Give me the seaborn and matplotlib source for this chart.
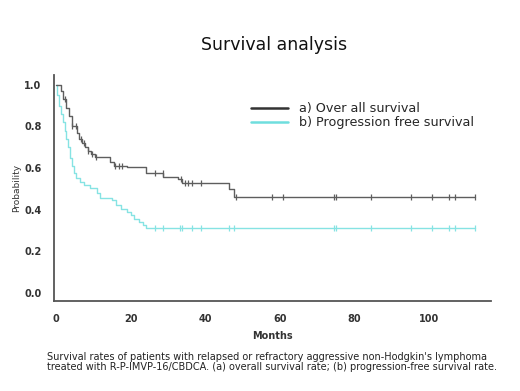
import numpy as np
import pandas as pd
import matplotlib
matplotlib.use("Agg")
import matplotlib.pyplot as plt
import seaborn as sns

# overall survival: step times (months) and survival probability after each step
os_time = [0, 1.3, 2.0, 2.8, 3.5, 4.2, 5.6, 6.3, 7.0, 7.8, 8.6, 9.5, 10.4, 14.4, 15.5, 19.0, 24.0, 28.8, 32.6, 33.8, 46.4, 47.6, 112.2]
os_surv = [1.0, 0.97, 0.93, 0.89, 0.85, 0.80, 0.77, 0.74, 0.72, 0.70, 0.68, 0.665, 0.654, 0.63, 0.612, 0.603, 0.577, 0.558, 0.545, 0.529, 0.50, 0.462, 0.462]
os_censor = [2.4, 4.4, 5.5, 6.6, 7.6, 8.6, 9.6, 10.6, 15.9, 16.8, 17.7, 26.6, 28.6, 33.5, 34.5, 35.5, 36.4, 38.8,
             48.2, 58.0, 60.9, 74.4, 75.0, 84.4, 95.1, 100.8, 105.3, 106.8, 112.2]

# progression free survival
pfs_time = [0, 0.3, 0.8, 1.3, 1.8, 2.3, 2.8, 3.3, 3.8, 4.2, 4.8, 5.4, 6.4, 7.5, 9.1, 10.9, 11.7, 14.9, 16.2, 17.5, 18.9, 20.0, 21.0, 22.2, 23.3, 24.2, 112.2]
pfs_surv = [1.0, 0.95, 0.90, 0.86, 0.82, 0.78, 0.74, 0.70, 0.65, 0.61, 0.575, 0.55, 0.534, 0.518, 0.502, 0.478, 0.454, 0.446, 0.42, 0.405, 0.39, 0.373, 0.357, 0.34, 0.325, 0.31, 0.31]
pfs_censor = [26.4, 28.6, 33.1, 33.7, 36.4, 38.8, 46.4, 47.7, 74.4, 75.0, 84.4, 95.1, 100.8, 105.3, 106.8, 112.2]

series_names = ["a) Over all survival", "b) Progression free survival"]
line_colors = ["#5e5e5e", "#86e3e3"]
legend_colors = ["#333333", "#6fdede"]

title = "Survival analysis"
caption = ("Survival rates of patients with relapsed or refractory aggressive non-Hodgkin's lymphoma\n"
           "treated with R-P-IMVP-16/CBDCA. (a) overall survival rate; (b) progression-free survival rate.")


def step_at(times, surv, t):
    # value of the step function at time t
    idx = np.searchsorted(np.asarray(times), np.asarray(t), side="right") - 1
    return np.asarray(surv)[idx]


sns.set_style("white")
plt.rcParams["font.family"] = ["DejaVu Sans"]

fig = plt.figure(figsize=(5.2, 3.91), dpi=100)
ax = fig.add_axes([0.104, 0.23, 0.84, 0.578])

curves = [(os_time, os_surv, os_censor), (pfs_time, pfs_surv, pfs_censor)]
# draw PFS first so OS sits on top
for i in [1, 0]:
    t, s, c = curves[i]
    df = pd.DataFrame({"Months": t, "Probability": s})
    sns.lineplot(data=df, x="Months", y="Probability", ax=ax, color=line_colors[i],
                 drawstyle="steps-post", linewidth=1.0, estimator=None, sort=False)
    cdf = pd.DataFrame({"Months": c, "Probability": step_at(t, s, c)})
    sns.scatterplot(data=cdf, x="Months", y="Probability", ax=ax, marker="|",
                    color=line_colors[i], s=16, linewidth=0.9, zorder=3)

ax.set_xlim(-0.5, 116.5)
ax.set_ylim(-0.04, 1.047)
ax.set_xticks(np.arange(0, 101, 20))
ax.set_yticks(np.arange(0, 1.01, 0.2))
ax.set_xticklabels([str(v) for v in range(0, 101, 20)])
ax.set_yticklabels([f"{v:.1f}" for v in np.arange(0, 1.01, 0.2)])
ax.tick_params(axis="both", direction="out", length=3, width=0.8, color="#555555",
               labelsize=7, labelcolor="#333333", pad=6)
for lab in ax.get_xticklabels() + ax.get_yticklabels():
    lab.set_fontweight("bold")
sns.despine(ax=ax)
for sp in ["left", "bottom"]:
    ax.spines[sp].set_color("#555555")
    ax.spines[sp].set_linewidth(1.3)

ax.set_xlabel("Months", fontsize=7, fontweight="bold", color="#333333", labelpad=5)
ax.set_ylabel("Probability", fontsize=6.5, color="#333333", labelpad=2)

handles = [plt.Line2D([], [], color=legend_colors[i], linewidth=1.8) for i in range(2)]
ax.legend(handles, series_names, loc="upper left", bbox_to_anchor=(0.44, 0.903),
          frameon=False, fontsize=9.2, handlelength=2.9, handletextpad=0.8,
          labelspacing=0.1, borderaxespad=0)

fig.text(0.528, 0.885, title, ha="center", va="center", fontsize=12.5, color="#111111")
fig.text(0.09, 0.073, caption, ha="left", va="center", fontsize=7.0, color="#222222",
         linespacing=1.0)

fig.savefig("out.png", dpi=100)
